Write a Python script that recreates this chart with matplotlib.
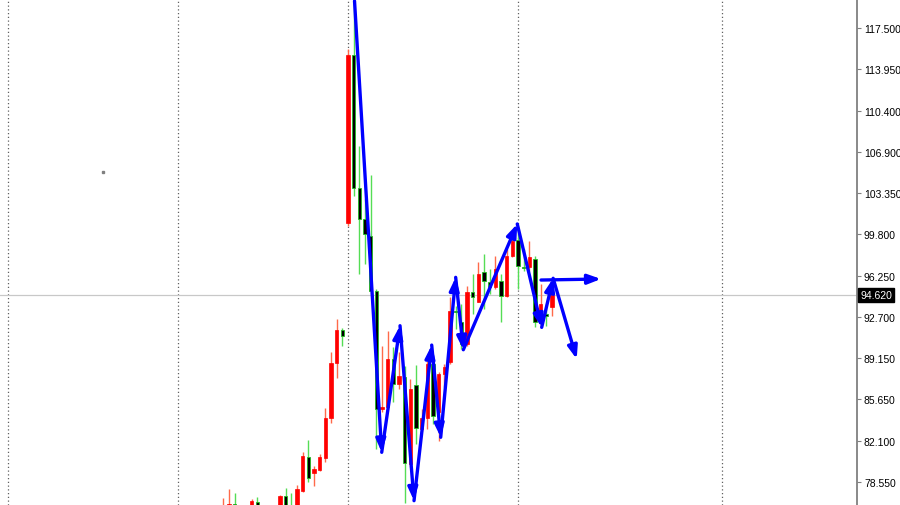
import matplotlib
matplotlib.use('Agg')
import matplotlib.pyplot as plt
import matplotlib.transforms as mtransforms
import numpy as np

plt.rcParams['font.family'] = ['Liberation Sans', 'DejaVu Sans']

# bar index (0 = big gap-up bar on the grid line)
bars = list(range(-22, 37))
opens = [75.37, 75.80, 76.66, 76.23, 75.37, 76.06, 76.84, 76.06, 75.20, 75.50,
         76.23, 77.35, 76.41, 76.23, 77.80, 80.72, 79.35, 79.58, 80.63, 84.01,
         88.76, 91.59, 100.74, 115.18, 103.77, 101.11, 99.68, 94.96, 84.81, 84.96,
         89.10, 86.96, 87.56, 80.09, 86.87, 83.10, 84.01, 88.67, 84.56, 87.82,
         88.82, 93.25, 92.25, 90.39, 94.82, 94.02, 96.59, 95.73, 95.25, 95.82,
         94.48, 97.97, 99.34, 97.00, 96.97, 97.68, 92.28, 92.96, 93.54]
highs = [77.18, 77.95, 77.61, 76.41, 76.41, 77.09, 77.26, 76.41, 76.41, 76.45,
         77.44, 78.04, 77.61, 78.32, 81.10, 82.15, 79.90, 80.93, 84.90, 89.68,
         92.53, 91.74, 115.70, 119.56, 107.40, 102.83, 104.89, 95.11, 90.24, 91.48,
         90.13, 89.70, 88.50, 87.39, 88.61, 84.81, 88.96, 89.10, 87.99, 88.67,
         94.42, 93.67, 93.82, 95.39, 96.40, 97.40, 98.11, 96.82, 97.94, 96.40,
         98.54, 99.68, 100.43, 98.54, 99.25, 97.97, 95.54, 93.82, 94.62]
lows = [74.95, 75.37, 75.37, 74.95, 74.95, 75.72, 75.55, 74.95, 74.70, 75.00,
        75.80, 75.80, 75.37, 76.06, 77.66, 78.58, 78.18, 79.49, 80.24, 83.61,
        87.47, 90.24, 100.54, 103.11, 96.40, 97.25, 94.68, 81.38, 84.56, 84.81,
        85.41, 86.53, 76.75, 79.84, 81.81, 82.93, 83.10, 83.53, 82.09, 86.70,
        88.67, 91.68, 89.96, 90.22, 92.96, 93.99, 93.39, 94.68, 95.11, 92.25,
        94.42, 97.85, 95.11, 96.65, 96.68, 91.82, 91.93, 91.96, 92.82]
closes = [76.41, 76.66, 75.80, 75.55, 76.23, 76.92, 76.06, 75.37, 76.23, 76.30,
          77.35, 76.23, 75.80, 77.95, 80.81, 78.87, 79.64, 80.70, 84.01, 88.76,
          91.62, 91.05, 115.18, 103.77, 101.11, 99.83, 94.96, 84.81, 84.98, 89.10,
          86.96, 87.64, 80.18, 86.53, 83.16, 84.04, 88.67, 84.24, 87.82, 88.42,
          93.25, 93.11, 90.39, 94.82, 94.40, 96.40, 95.77, 95.25, 96.82, 94.53,
          97.97, 99.25, 97.11, 96.88, 97.83, 92.25, 93.82, 92.79, 94.62]

# hand drawn wave arrows (bar index, price)
wave_x = [1.15, 5.95, 9.18, 11.65, 14.77, 16.36, 19.0, 20.35, 29.87, 34.18, 36.2, 40.36]
wave_y = [119.82, 81.10, 91.96, 76.95, 90.30, 82.39, 96.11, 89.90, 100.69, 91.82, 96.03, 89.10]
flat_x = [34.06, 44.65]
flat_y = [95.88, 95.97]

separators = [-60, -30, 0, 30, 66]
yticks = [117.5, 113.95, 110.4, 106.9, 103.35, 99.8, 96.25, 92.7, 89.15, 85.65, 82.1, 78.55]
last_price = 94.62
stray_dot = (-43.2, 105.15)

fig = plt.figure(figsize=(9, 5.06), dpi=100)
ax = fig.add_axes([0, 0, 857 / 900, 1])
ax.set_xlim(-61.41, 89.82)
ax.set_ylim(76.58, 119.99)

for s in separators:
    ax.axvline(s, color='#606060', lw=0.9, ls=(0, (1, 2)), zorder=1)
ax.axhline(last_price, color='#c8c8c8', lw=0.9, zorder=1)
ax.plot(*stray_dot, marker='s', ms=1.5, color='#808080', zorder=2)

o = np.array(opens)
c = np.array(closes)
up = c >= o
x = np.array(bars)
ax.vlines(x[up], np.array(lows)[up], np.array(highs)[up], color='#ff6a4a', lw=1, zorder=2)
ax.vlines(x[~up], np.array(lows)[~up], np.array(highs)[~up], color='#55dd55', lw=1, zorder=2)
body_lo = np.minimum(o, c)
body_h = np.maximum(np.abs(c - o), 0.12)
ax.bar(x[up], body_h[up], bottom=body_lo[up], width=0.56, color='#ff0000',
       edgecolor='#ff0000', lw=0.5, zorder=3)
ax.bar(x[~up], body_h[~up], bottom=body_lo[~up], width=0.56, color='#000000',
       edgecolor='#22bb22', lw=0.6, zorder=3)

arrow = dict(arrowstyle='-|>,head_length=0.7,head_width=0.26', color='#0000ff',
             lw=2.4, shrinkA=0, shrinkB=0, mutation_scale=11)
for k in range(len(wave_x) - 1):
    ax.annotate('', xy=(wave_x[k + 1], wave_y[k + 1]), xytext=(wave_x[k], wave_y[k]),
                arrowprops=arrow, zorder=5, annotation_clip=False)
ax.annotate('', xy=(flat_x[1], flat_y[1]), xytext=(flat_x[0], flat_y[0]),
            arrowprops=arrow, zorder=5)

ax.yaxis.tick_right()
ax.set_yticks(yticks)
ax.set_yticklabels([f'{t:.3f}' for t in yticks])
ax.tick_params(axis='y', length=3, color='#808080', labelsize=7.5, pad=2)
ax.set_xticks([])
for side in ['left', 'top', 'bottom']:
    ax.spines[side].set_visible(False)
ax.spines['right'].set_color('#808080')
ax.spines['right'].set_linewidth(1.3)

trans = mtransforms.blended_transform_factory(ax.transAxes, ax.transData)
ax.text(1.004, last_price, f'{last_price:.3f}', transform=trans, color='white', fontsize=7.5,
        va='center', ha='left', clip_on=False,
        bbox=dict(boxstyle='square,pad=0.2', fc='black', ec='black'))

fig.savefig('out.png', dpi=100)
